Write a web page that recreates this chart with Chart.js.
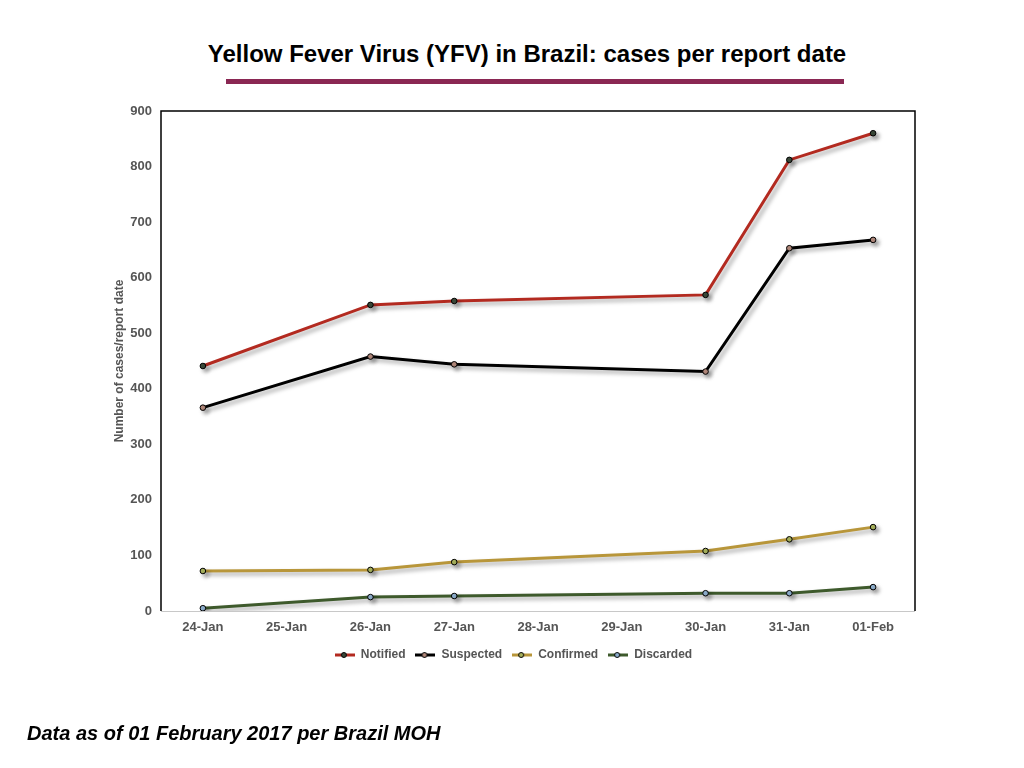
<!DOCTYPE html>
<html>
<head>
<meta charset="utf-8">
<script src="https://cdn.jsdelivr.net/npm/chart.js@4"></script>
<style>
  body{margin:0;width:1024px;height:768px;background:#fff;position:relative;overflow:hidden;font-family:"Liberation Sans",Arial,sans-serif;}
  #title{position:absolute;left:190px;width:674px;top:40px;text-align:center;font-weight:bold;font-size:24px;color:#000;}
  #rule{position:absolute;left:226px;width:618px;top:79px;height:5px;background:#8a2753;}
  #note{position:absolute;left:27px;top:722px;font-weight:bold;font-style:italic;font-size:20px;color:#000;}
  #wrap{position:absolute;left:0;top:0;width:1024px;height:768px;}
</style>
</head>
<body>
<div id="title">Yellow Fever Virus (YFV) in Brazil: cases per report date</div>
<div id="rule"></div>
<div id="wrap"><canvas id="lineChart"></canvas></div>
<div id="note">Data as of 01 February 2017 per Brazil MOH</div>
<script>
// dates on the x axis (no report on 25, 28, 29 Jan)
var dates = ["24-Jan","25-Jan","26-Jan","27-Jan","28-Jan","29-Jan","30-Jan","31-Jan","01-Feb"];
var notified  = [441, null, 551, 558, null, null, 569, 812, 860];
var suspected = [366, null, 458, 444, null, null, 431, 653, 668];
var confirmed = [72,  null, 74,  88,  null, null, 108, 129, 151];
var discarded = [5,   null, 25,  27,  null, null, 32,  32,  43];
var yTicks = [0,100,200,300,400,500,600,700,800,900];

var lineColors  = ["#b32a20", "#000000", "#b8963a", "#3e5a2c"];
var pointColors = ["#3b4a3a", "#b48a7c", "#a9b45e", "#8fb0cf"];

//legend symbol: short line with a dot in the middle
function legendIcon(lineCol, dotCol){
  var c = document.createElement("canvas");
  c.width = 20; c.height = 8;
  var g = c.getContext("2d");
  g.strokeStyle = lineCol; g.lineWidth = 3;
  g.beginPath(); g.moveTo(0,4); g.lineTo(20,4); g.stroke();
  g.fillStyle = dotCol; g.strokeStyle = "#000"; g.lineWidth = 1;
  g.beginPath(); g.arc(9,4,2.5,0,Math.PI*2); g.fill(); g.stroke();
  return c;
}

function makeSet(label, values, i){
  return {
    label: label,
    data: values,
    borderColor: lineColors[i],
    backgroundColor: pointColors[i],
    borderWidth: 3,
    pointRadius: 2.8,
    pointBorderWidth: 1,
    pointBorderColor: "#000",
    pointBackgroundColor: pointColors[i],
    spanGaps: true,
    tension: 0
  };
}

var shadowPlugin = {
  id: "lineShadow",
  beforeDatasetsDraw: function(chart){
    var ctx = chart.ctx;
    ctx.save();
    ctx.shadowColor = "rgba(0,0,0,0.35)";
    ctx.shadowBlur = 4;
    ctx.shadowOffsetX = 3;
    ctx.shadowOffsetY = 3;
  },
  afterDatasetsDraw: function(chart){
    chart.ctx.restore();
  }
};

var boxPlugin = {
  id: "plotBox",
  beforeDatasetsDraw: function(chart){
    var a = chart.chartArea, ctx = chart.ctx;
    ctx.save();
    ctx.strokeStyle = "#000"; ctx.lineWidth = 1.5;
    ctx.beginPath();
    ctx.moveTo(a.left, a.bottom); ctx.lineTo(a.left, a.top);
    ctx.lineTo(a.right, a.top); ctx.lineTo(a.right, a.bottom);
    ctx.stroke();
    ctx.strokeStyle = "#c8c8c8"; ctx.lineWidth = 1;
    ctx.beginPath(); ctx.moveTo(a.left, a.bottom + 0.5); ctx.lineTo(a.right, a.bottom + 0.5); ctx.stroke();
    ctx.restore();
  }
};

var tickFont = {family: "Liberation Sans", size: 13, weight: "bold"};
var smallFont = {family: "Liberation Sans", size: 12, weight: "bold"};

var chart = new Chart(document.getElementById("lineChart"), {
  type: "line",
  data: {
    labels: dates,
    datasets: [
      makeSet("Notified", notified, 0),
      makeSet("Suspected", suspected, 1),
      makeSet("Confirmed", confirmed, 2),
      makeSet("Discarded", discarded, 3)
    ]
  },
  options: {
    responsive: true,
    maintainAspectRatio: false,
    animation: false,
    layout: { padding: {left: 112, right: 109, top: 111, bottom: 97} },
    scales: {
      x: {
        offset: true,
        grid: { display: false, drawTicks: false },
        border: { display: false },
        ticks: { color: "#555", font: tickFont, padding: 9, maxRotation: 0 },
        afterFit: function(s){ s.height = 28; }
      },
      y: {
        min: 0, max: 900,
        grid: { display: false, drawTicks: false },
        border: { display: false },
        afterBuildTicks: function(s){ s.ticks = yTicks.map(function(v){ return {value: v}; }); },
        ticks: { color: "#555", font: tickFont, padding: 9 },
        title: { display: true, text: "Number of cases/report date", color: "#555", font: smallFont, padding: 0 },
        afterFit: function(s){ s.width = 49; }
      }
    },
    plugins: {
      legend: {
        position: "bottom",
        labels: {
          color: "#555",
          font: smallFont,
          usePointStyle: true,
          pointStyleWidth: 20,
          padding: 10,
          generateLabels: function(ch){
            return ch.data.datasets.map(function(ds, i){
              return { text: ds.label, pointStyle: legendIcon(lineColors[i], pointColors[i]),
                       fontColor: "#555", datasetIndex: i, hidden: false, lineWidth: 0 };
            });
          }
        }
      },
      tooltip: { enabled: false }
    }
  },
  plugins: [boxPlugin, shadowPlugin]
});
</script>
</body>
</html>
